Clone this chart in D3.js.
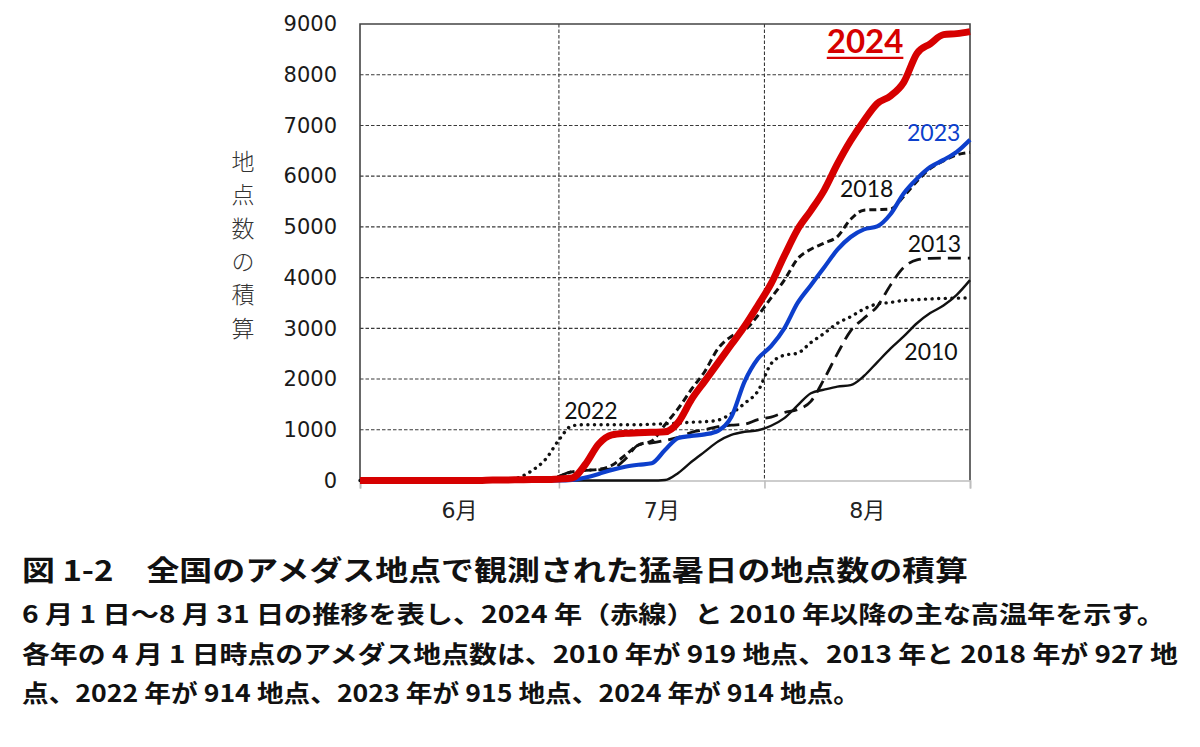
<!DOCTYPE html>
<html>
<head>
<meta charset="utf-8">
<script src="https://cdn.jsdelivr.net/npm/d3@7"></script>
<style>
  body { margin: 0; background: #fff; }
  svg { display: block; }
</style>
</head>
<body>
<svg id="chart" width="1200" height="747"></svg>
<script>
// days since June 1 (0 = start of 6/1, 92 = end of 8/31)
const days = [0, 2, 4, 6, 8, 10, 12, 14, 16, 18, 20, 22, 24, 26, 28, 30, 32, 34, 36, 38, 40, 42, 44, 46,
  48, 50, 52, 54, 56, 58, 60, 62, 64, 66, 68, 70, 72, 74, 76, 78, 80, 82, 84, 86, 88, 90, 92];

const y2024 = [0, 0, 0, 0, 0, 0, 0, 0, 0, 0, 10, 10, 15, 20, 20, 30, 50, 320, 720, 900, 930, 940, 950, 960,
  1150, 1600, 1960, 2320, 2680, 3040, 3450, 3880, 4430, 4950, 5320, 5720, 6240, 6700, 7090, 7430,
  7580, 7850, 8420, 8610, 8790, 8810, 8850];
const y2023 = [0, 0, 0, 0, 0, 0, 0, 0, 0, 0, 0, 0, 0, 0, 0, 0, 10, 60, 130, 210, 270, 310, 340, 600,
  840, 880, 910, 980, 1250, 1950, 2400, 2650, 3000, 3500, 3850, 4200, 4550, 4800, 4950, 5010,
  5250, 5660, 5950, 6180, 6320, 6480, 6720];
const y2022 = [0, 0, 0, 0, 0, 0, 0, 0, 0, 0, 0, 0, 60, 200, 420, 800, 1080, 1100, 1100, 1100, 1100, 1100, 1110, 1120,
  1130, 1150, 1160, 1190, 1320, 1520, 1760, 2300, 2470, 2510, 2720, 2900, 3100, 3230, 3380, 3480,
  3510, 3550, 3565, 3580, 3590, 3595, 3600];
const y2018 = [0, 0, 0, 0, 0, 0, 0, 0, 0, 0, 0, 0, 0, 0, 0, 80, 170, 200, 220, 300, 500, 700, 780, 1100,
  1420, 1800, 2150, 2600, 2840, 2960, 3250, 3600, 3950, 4370, 4560, 4680, 4810, 5150, 5330, 5340,
  5350, 5600, 5900, 6150, 6300, 6420, 6470];
const y2013 = [0, 0, 0, 0, 0, 0, 0, 0, 0, 0, 0, 0, 0, 0, 0, 80, 180, 200, 210, 230, 420, 700, 740, 790,
  850, 950, 1000, 1060, 1090, 1110, 1200, 1250, 1340, 1400, 1560, 2000, 2500, 2950, 3200, 3430,
  3850, 4200, 4350, 4380, 4385, 4385, 4385];
const y2010 = [0, 0, 0, 0, 0, 0, 0, 0, 0, 0, 0, 0, 0, 0, 0, 0, 0, 0, 0, 0, 0, 0, 0, 10,
  150, 370, 570, 770, 900, 960, 990, 1080, 1230, 1480, 1720, 1790, 1850, 1880, 2060, 2330,
  2600, 2840, 3100, 3300, 3450, 3660, 3950];

const yTicks = [0, 1000, 2000, 3000, 4000, 5000, 6000, 7000, 8000, 9000];
const monthEdges = [0, 30, 61, 92];
const monthLabels = ["6月", "7月", "8月"];
const yTitle = "地点数の積算";

const captionTitle = "図 1-2　全国のアメダス地点で観測された猛暑日の地点数の積算";
const captionLines = [
  "6 月 1 日～8 月 31 日の推移を表し、2024 年（赤線）と 2010 年以降の主な高温年を示す。",
  "各年の 4 月 1 日時点のアメダス地点数は、2010 年が 919 地点、2013 年と 2018 年が 927 地",
  "点、2022 年が 914 地点、2023 年が 915 地点、2024 年が 914 地点。"
];

const series = [
  { name: "2022", values: y2022, color: "#111", width: 3.4, dash: "0.1,6.5", cap: "round",
    label: { x: 30.8, y: 1220, size: 23 } },
  { name: "2013", values: y2013, color: "#111", width: 2.8, dash: "13,7", cap: "butt",
    label: { x: 82.6, y: 4500, size: 23 } },
  { name: "2018", values: y2018, color: "#111", width: 3, dash: "7,4", cap: "butt",
    label: { x: 72.4, y: 5580, size: 23 } },
  { name: "2010", values: y2010, color: "#111", width: 2.4, dash: null, cap: "butt",
    label: { x: 82.1, y: 2380, size: 23 } },
  { name: "2023", values: y2023, color: "#0d3fcc", width: 4.2, dash: null, cap: "butt",
    label: { x: 82.5, y: 6700, size: 23 } },
  { name: "2024", values: y2024, color: "#d60000", width: 7, dash: null, cap: "butt",
    label: { x: 70.4, y: 8430, size: 33, bold: true, underline: true } }
];

const svg = d3.select("#chart");
const plot = { left: 360, right: 970, top: 24, bottom: 480.5 };

const x = d3.scaleLinear().domain([0, 92]).range([plot.left, plot.right]);
const y = d3.scaleLinear().domain([0, 9000]).range([plot.bottom, plot.top]);

svg.append("rect").attr("width", 1200).attr("height", 747).attr("fill", "#fff");

// horizontal dashed grid
svg.append("g")
  .selectAll("line")
  .data(yTicks.filter(v => v > 0 && v < 9000))
  .join("line")
  .attr("x1", plot.left).attr("x2", plot.right)
  .attr("y1", d => y(d)).attr("y2", d => y(d))
  .attr("stroke", "#3a3a3a").attr("stroke-width", 1.1)
  .attr("stroke-dasharray", "3.5,2");

// month separators
svg.append("g")
  .selectAll("line")
  .data(monthEdges.slice(1, 3))
  .join("line")
  .attr("x1", d => x(d)).attr("x2", d => x(d))
  .attr("y1", plot.top).attr("y2", plot.bottom)
  .attr("stroke", "#3a3a3a").attr("stroke-width", 1.1)
  .attr("stroke-dasharray", "3.5,2");

// frame: top, left, right
svg.append("path")
  .attr("d", `M${plot.left},${plot.bottom}V${plot.top}H${plot.right}V${plot.bottom}`)
  .attr("fill", "none").attr("stroke", "#444").attr("stroke-width", 1.6);

// bottom axis (light gray with month ticks)
const xAxis = svg.append("g")
  .attr("transform", `translate(0,${plot.bottom})`)
  .call(d3.axisBottom(x).tickValues(monthEdges).tickSize(8).tickFormat(""));
xAxis.select(".domain").attr("stroke", "#bdbdbd").attr("stroke-width", 1.6);
xAxis.selectAll(".tick line").attr("stroke", "#bdbdbd").attr("stroke-width", 1.6);

svg.append("g")
  .selectAll("text")
  .data(monthLabels)
  .join("text")
  .attr("x", (d, i) => x((monthEdges[i] + monthEdges[i + 1]) / 2))
  .attr("y", 518)
  .attr("text-anchor", "middle")
  .attr("font-family", "'DejaVu Sans', 'Noto Sans CJK JP', sans-serif")
  .attr("font-size", 22)
  .attr("fill", "#222")
  .text(d => d);

// left axis labels
const yAxis = svg.append("g")
  .attr("transform", `translate(${plot.left},0)`)
  .call(d3.axisLeft(y).tickValues(yTicks).tickSize(0).tickPadding(23).tickFormat(d3.format("d")));
yAxis.select(".domain").remove();
yAxis.selectAll("text")
  .attr("font-family", "'DejaVu Sans', sans-serif")
  .attr("font-size", 21)
  .attr("fill", "#1a1a1a");

// vertical y title
svg.append("g")
  .selectAll("text")
  .data(Array.from(yTitle))
  .join("text")
  .attr("x", 243)
  .attr("y", (d, i) => 170 + i * 33.3)
  .attr("text-anchor", "middle")
  .attr("font-family", "'Noto Sans CJK JP', sans-serif")
  .attr("font-weight", 300)
  .attr("font-size", 23)
  .attr("fill", "#333")
  .text(d => d);

// lines
const line = d3.line()
  .x((d, i) => x(days[i]))
  .y(d => y(d))
  .curve(d3.curveMonotoneX);

svg.append("g")
  .selectAll("path")
  .data(series)
  .join("path")
  .attr("d", d => line(d.values))
  .attr("fill", "none")
  .attr("stroke", d => d.color)
  .attr("stroke-width", d => d.width)
  .attr("stroke-dasharray", d => d.dash)
  .attr("stroke-linecap", d => d.cap)
  .attr("stroke-linejoin", "round");

// series labels
const labels = svg.append("g")
  .selectAll("text")
  .data(series)
  .join("text")
  .attr("x", d => x(d.label.x))
  .attr("y", d => y(d.label.y))
  .attr("font-family", "Lato, 'Open Sans', sans-serif")
  .attr("font-size", d => d.label.size)
  .attr("font-weight", d => d.label.bold ? "bold" : "normal")
  .attr("fill", d => d.color)
  .text(d => d.name);

labels.each(function(d) {
  if (!d.label.underline) return;
  const bb = this.getBBox();
  svg.append("line")
    .attr("x1", bb.x).attr("x2", bb.x + bb.width)
    .attr("y1", y(d.label.y) + 5)
    .attr("y2", y(d.label.y) + 5)
    .attr("stroke", d.color)
    .attr("stroke-width", 2.2);
});

// caption
svg.append("text")
  .attr("x", 22).attr("y", 581)
  .attr("font-family", "'Noto Sans CJK JP', sans-serif")
  .attr("font-weight", "bold")
  .attr("font-size", 28)
  .attr("fill", "#111")
  .attr("textLength", 946)
  .attr("lengthAdjust", "spacingAndGlyphs")
  .text(captionTitle);

const captionWidths = [1143, 1156, 838];
svg.append("g")
  .selectAll("text")
  .data(captionLines)
  .join("text")
  .attr("x", 22)
  .attr("y", (d, i) => 623 + i * 39.5)
  .attr("font-family", "'Noto Sans CJK JP', sans-serif")
  .attr("font-weight", "bold")
  .attr("font-size", 24)
  .attr("fill", "#111")
  .attr("textLength", (d, i) => captionWidths[i])
  .attr("lengthAdjust", "spacingAndGlyphs")
  .text(d => d);
</script>
</body>
</html>
